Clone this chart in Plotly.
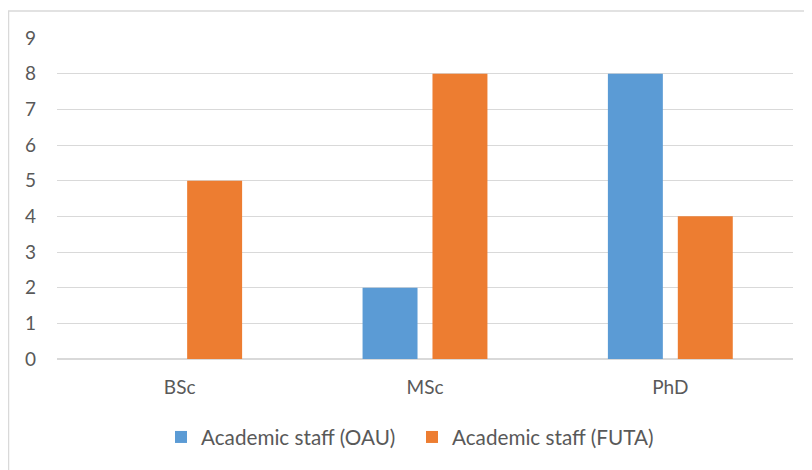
import plotly.graph_objects as go

categories = ['BSc', 'MSc', 'PhD']
oau_staff = [0, 2, 8]
futa_staff = [5, 8, 4]
y_ticks = list(range(0, 10))

# page body has an 8px margin, so the figure is a bit smaller than the window
W, H = 804, 462
L, R, T, B = 49, 19, 30, 111
pw, ph = W - L - R, H - T - B

font = dict(family='Lato, "Open Sans", sans-serif', color='#595959')

fig = go.Figure(data=[
    go.Bar(x=categories, y=oau_staff, name='Academic staff (OAU)',
           marker=dict(color='#5B9BD5', line=dict(width=0))),
    go.Bar(x=categories, y=futa_staff, name='Academic staff (FUTA)',
           marker=dict(color='#ED7D31', line=dict(width=0))),
])

# outer chart border (runs off the right and bottom of the picture)
fig.add_shape(type='rect', xref='paper', yref='paper',
              x0=(0.5 - L) / pw, x1=1.2, y0=-0.6, y1=(H - B - 3) / ph,
              line=dict(color='#d9d9d9', width=1.5), fillcolor='rgba(0,0,0,0)',
              layer='below')

fig.update_layout(
    width=W, height=H,
    margin=dict(l=L, r=R, t=T, b=B),
    paper_bgcolor='white', plot_bgcolor='white',
    barmode='group', bargap=0.43, bargroupgap=0.214,
    font=dict(size=20, **font),
    showlegend=True,
    legend=dict(orientation='h', x=(161 - 8 - L) / pw, xanchor='left', y=-0.243, yanchor='middle',
                font=dict(size=20.7, **font), itemwidth=30, traceorder='normal',
                entrywidth=206, entrywidthmode='pixels'),
    xaxis=dict(showgrid=False, showline=False, ticks='', ticklabelstandoff=15,
               tickfont=dict(size=19, **font)),
    yaxis=dict(range=[0, 9], tickvals=y_ticks, showgrid=True, gridcolor='#d9d9d9',
               gridwidth=1, zeroline=True, zerolinecolor='#d9d9d9', zerolinewidth=1.5,
               showline=False, ticks='', ticklabelstandoff=20,
               tickfont=dict(size=19, **font)),
)

fig.write_html('out.html')
